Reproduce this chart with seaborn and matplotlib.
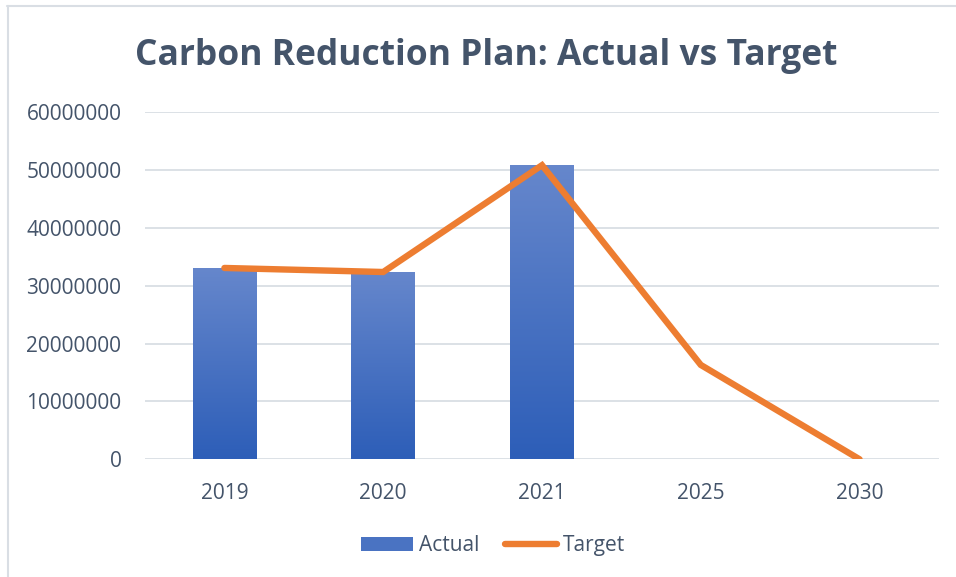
import numpy as np
import pandas as pd
import seaborn as sns
import matplotlib.pyplot as plt
from matplotlib.lines import Line2D
from matplotlib.patches import Patch
from matplotlib.ticker import FuncFormatter

# chart data
years = ["2019", "2020", "2021", "2025", "2030"]
actual = [33050000, 32350000, 50800000, np.nan, np.nan]
target = [33050000, 32350000, 50800000, 16300000, 0]
y_ticks = [0, 10000000, 20000000, 30000000, 40000000, 50000000, 60000000]

title_color = "#44546A"
bar_top = np.array([0x66, 0x87, 0xCC]) / 255
bar_bottom = np.array([0x2D, 0x5E, 0xB8]) / 255
line_color = "#ED7D31"
grid_color = "#D9DEE4"

sns.set_theme(style="white")
plt.rcParams["font.family"] = ["Open Sans", "DejaVu Sans"]

df = pd.DataFrame({"year": years, "actual": actual, "target": target})

fig = plt.figure(figsize=(9.56, 5.77), dpi=100)
ax = fig.add_axes([0.1517, 0.204, 0.8305, 0.602])

sns.barplot(data=df, x="year", y="actual", order=years, width=0.4,
            color=bar_bottom, ax=ax, zorder=2)

# vertical gradient fill on each bar, clipped to the bar shape
grad = np.linspace(0, 1, 256)[:, None, None]
grad_img = bar_top * (1 - grad) + bar_bottom * grad
for p in ax.patches:
    h = p.get_height()
    if not np.isfinite(h) or h <= 0:
        continue
    x0 = p.get_x()
    w = p.get_width()
    im = ax.imshow(grad_img, extent=[x0, x0 + w, 0, h], origin="upper",
                   aspect="auto", zorder=2.5, interpolation="bilinear")
    im.set_clip_path(p)
    p.set_edgecolor("none")

sns.lineplot(x=np.arange(len(years)), y=df["target"], color=line_color,
             linewidth=4.6, ax=ax, zorder=3, solid_capstyle="round",
             solid_joinstyle="miter")

ax.set_xlim(-0.5, len(years) - 0.5)
ax.set_ylim(0, 60000000)
ax.set_yticks(y_ticks)
ax.yaxis.set_major_formatter(FuncFormatter(lambda v, _: f"{int(v)}"))
ax.set_xticks(range(len(years)))
ax.set_xticklabels(years)
ax.set_xlabel("")
ax.set_ylabel("")
ax.grid(axis="y", color=grid_color, linewidth=1.3, zorder=0)
ax.set_axisbelow(True)
for s in ax.spines.values():
    s.set_visible(False)
ax.tick_params(axis="y", length=0, pad=17, labelsize=15, labelcolor=title_color)
ax.tick_params(axis="x", length=0, pad=17, labelsize=15, labelcolor=title_color)

fig.text(0.509, 0.903, "Carbon Reduction Plan: Actual vs Target", ha="center",
         va="center", fontsize=25.5, fontweight="bold", color=title_color)

handles = [Patch(facecolor=(bar_top + bar_bottom) / 2, edgecolor="none"),
           Line2D([0], [0], color=line_color, linewidth=4.6, solid_capstyle="round")]
fig.legend(handles, ["Actual", "Target"], loc="center", bbox_to_anchor=(0.516, 0.054),
           ncol=2, frameon=False, fontsize=15, labelcolor=title_color,
           handlelength=2.5, handletextpad=0.3, columnspacing=1.2)

# thin frame lines on the top and left edges
fig.add_artist(Line2D([0.007, 1.0], [0.989, 0.989], color=grid_color, linewidth=1.5,
                      transform=fig.transFigure))
fig.add_artist(Line2D([0.008, 0.008], [0.0, 0.989], color=grid_color, linewidth=1.5,
                      transform=fig.transFigure))

fig.savefig("out.png", dpi=100)
